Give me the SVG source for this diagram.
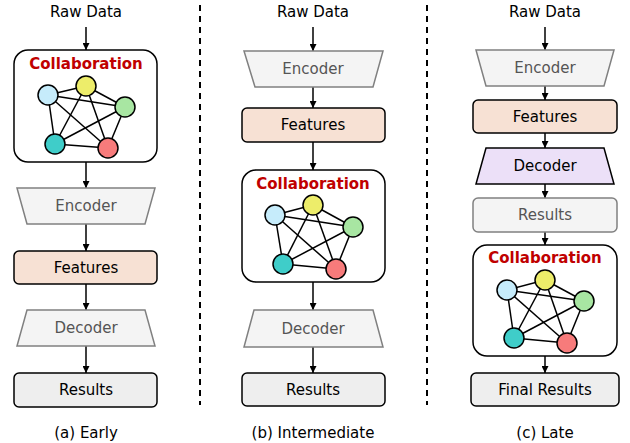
<svg xmlns="http://www.w3.org/2000/svg" width="630" height="443" viewBox="0 0 630 443">
<defs>
<marker id="ah" viewBox="0 0 10 10" refX="10" refY="5" markerWidth="7" markerHeight="7" markerUnits="userSpaceOnUse" orient="auto"><path d="M0,0 L10,5 L0,10 z" fill="#000"/></marker>
<style>
text{font-family:"DejaVu Sans","Verdana",sans-serif;font-size:15px;text-anchor:middle;dominant-baseline:central}
.lbl{fill:#000}
.gray{fill:#555}
.title{fill:#c00000;font-weight:bold}
.enc{fill:#f4f4f4;stroke:#808080;stroke-width:1.5}
.feat{fill:#f7e1d4;stroke:#000;stroke-width:1.5}
.res{fill:#eeeeee;stroke:#000;stroke-width:1.5}
.resg{fill:#f4f4f4;stroke:#808080;stroke-width:1.5}
.dec2{fill:#ece0f8;stroke:#000;stroke-width:1.5}
.box{fill:#fff;stroke:#000;stroke-width:1.5}
.edge{stroke:#000;stroke-width:1.5}
.n{stroke:#000;stroke-width:1.5}
.arr{stroke:#000;stroke-width:1.5;fill:none;marker-end:url(#ah)}
.sep{stroke:#000;stroke-width:2;stroke-dasharray:6,5}
</style>
</defs>
<g id="separators">
<line class="sep" x1="200" y1="5" x2="200" y2="405"/>
<line class="sep" x1="427" y1="5" x2="427" y2="405"/>
</g>
<g id="connectors">
<line class="arr" x1="86" y1="27" x2="86" y2="50"/>
<line class="arr" x1="86" y1="162" x2="86" y2="188"/>
<line class="arr" x1="86" y1="224" x2="86" y2="251"/>
<line class="arr" x1="86" y1="284" x2="86" y2="310"/>
<line class="arr" x1="86" y1="346" x2="86" y2="373"/>
<line class="arr" x1="313" y1="27" x2="313" y2="51"/>
<line class="arr" x1="313" y1="87" x2="313" y2="108"/>
<line class="arr" x1="313" y1="142" x2="313" y2="170"/>
<line class="arr" x1="313" y1="282" x2="313" y2="310"/>
<line class="arr" x1="313" y1="347" x2="313" y2="373"/>
<line class="arr" x1="545" y1="27" x2="545" y2="50"/>
<line class="arr" x1="545" y1="86" x2="545" y2="100"/>
<line class="arr" x1="545" y1="133" x2="545" y2="148"/>
<line class="arr" x1="545" y1="184" x2="545" y2="198"/>
<line class="arr" x1="545" y1="232" x2="545" y2="245"/>
<line class="arr" x1="545" y1="356" x2="545" y2="373"/>
</g>
<!-- Column a -->
<g id="a-raw"><text class="lbl" x="86" y="12">Raw Data</text></g>
<g id="a-collab">
<rect class="box" x="14" y="50" width="143" height="112" rx="14"/>
<text class="title" x="86" y="64">Collaboration</text>
<g>
<line class="edge" x1="48" y1="95" x2="86" y2="86"/><line class="edge" x1="48" y1="95" x2="125" y2="107"/><line class="edge" x1="48" y1="95" x2="55" y2="144"/><line class="edge" x1="48" y1="95" x2="108" y2="148"/>
<line class="edge" x1="86" y1="86" x2="125" y2="107"/><line class="edge" x1="86" y1="86" x2="55" y2="144"/><line class="edge" x1="86" y1="86" x2="108" y2="148"/>
<line class="edge" x1="125" y1="107" x2="55" y2="144"/><line class="edge" x1="125" y1="107" x2="108" y2="148"/>
<line class="edge" x1="55" y1="144" x2="108" y2="148"/>
</g>
<circle class="n" cx="48" cy="95" r="10" fill="#c6ecfb"/>
<circle class="n" cx="86" cy="86" r="10" fill="#eded6a"/>
<circle class="n" cx="125" cy="107" r="10" fill="#a8e6a2"/>
<circle class="n" cx="55" cy="144" r="10" fill="#3fcdc9"/>
<circle class="n" cx="108" cy="148" r="10" fill="#f77b7b"/>
</g>
<g id="a-encoder"><polygon class="enc" points="17,188 155,188 145,224 27,224"/><text class="gray" x="86" y="206">Encoder</text></g>
<g id="a-features"><rect class="feat" x="14" y="251" width="143" height="33" rx="5"/><text class="lbl" x="86" y="267.5">Features</text></g>
<g id="a-decoder"><polygon class="enc" points="27,310 145,310 155,346 17,346"/><text class="gray" x="86" y="328">Decoder</text></g>
<g id="a-results"><rect class="res" x="14" y="373" width="143" height="34" rx="5"/><text class="lbl" x="86" y="390">Results</text></g>
<g id="a-caption"><text class="lbl" x="86" y="433">(a) Early</text></g>
<!-- Column b -->
<g id="b-raw"><text class="lbl" x="313" y="12">Raw Data</text></g>
<g id="b-encoder"><polygon class="enc" points="244,51 383,51 373,87 255,87"/><text class="gray" x="313" y="69">Encoder</text></g>
<g id="b-features"><rect class="feat" x="242" y="108" width="143" height="34" rx="5"/><text class="lbl" x="313" y="125">Features</text></g>
<g id="b-collab">
<rect class="box" x="242" y="170" width="143" height="112" rx="14"/>
<text class="title" x="313" y="184">Collaboration</text>
<g>
<line class="edge" x1="275" y1="215" x2="313" y2="205"/><line class="edge" x1="275" y1="215" x2="353" y2="227"/><line class="edge" x1="275" y1="215" x2="283" y2="264"/><line class="edge" x1="275" y1="215" x2="336" y2="269"/>
<line class="edge" x1="313" y1="205" x2="353" y2="227"/><line class="edge" x1="313" y1="205" x2="283" y2="264"/><line class="edge" x1="313" y1="205" x2="336" y2="269"/>
<line class="edge" x1="353" y1="227" x2="283" y2="264"/><line class="edge" x1="353" y1="227" x2="336" y2="269"/>
<line class="edge" x1="283" y1="264" x2="336" y2="269"/>
</g>
<circle class="n" cx="275" cy="215" r="10" fill="#c6ecfb"/>
<circle class="n" cx="313" cy="205" r="10" fill="#eded6a"/>
<circle class="n" cx="353" cy="227" r="10" fill="#a8e6a2"/>
<circle class="n" cx="283" cy="264" r="10" fill="#3fcdc9"/>
<circle class="n" cx="336" cy="269" r="10" fill="#f77b7b"/>
</g>
<g id="b-decoder"><polygon class="enc" points="254,310 373,310 383,347 244,347"/><text class="gray" x="313" y="328.5">Decoder</text></g>
<g id="b-results"><rect class="res" x="242" y="373" width="143" height="33" rx="5"/><text class="lbl" x="313" y="389.5">Results</text></g>
<g id="b-caption"><text class="lbl" x="313" y="433">(b) Intermediate</text></g>
<!-- Column c -->
<g id="c-raw"><text class="lbl" x="545" y="12">Raw Data</text></g>
<g id="c-encoder"><polygon class="enc" points="476,50 614,50 604,86 486,86"/><text class="gray" x="545" y="68">Encoder</text></g>
<g id="c-features"><rect class="feat" x="473" y="100" width="144" height="33" rx="5"/><text class="lbl" x="545" y="116.5">Features</text></g>
<g id="c-decoder"><polygon class="dec2" points="486,148 604,148 614,184 476,184"/><text class="lbl" x="545" y="166">Decoder</text></g>
<g id="c-results"><rect class="resg" x="473" y="198" width="144" height="34" rx="5"/><text class="gray" x="545" y="215">Results</text></g>
<g id="c-collab">
<rect class="box" x="473" y="245" width="144" height="111" rx="14"/>
<text class="title" x="545" y="258">Collaboration</text>
<g>
<line class="edge" x1="507" y1="290" x2="545" y2="280"/><line class="edge" x1="507" y1="290" x2="584" y2="301"/><line class="edge" x1="507" y1="290" x2="514" y2="338"/><line class="edge" x1="507" y1="290" x2="567" y2="343"/>
<line class="edge" x1="545" y1="280" x2="584" y2="301"/><line class="edge" x1="545" y1="280" x2="514" y2="338"/><line class="edge" x1="545" y1="280" x2="567" y2="343"/>
<line class="edge" x1="584" y1="301" x2="514" y2="338"/><line class="edge" x1="584" y1="301" x2="567" y2="343"/>
<line class="edge" x1="514" y1="338" x2="567" y2="343"/>
</g>
<circle class="n" cx="507" cy="290" r="10" fill="#c6ecfb"/>
<circle class="n" cx="545" cy="280" r="10" fill="#eded6a"/>
<circle class="n" cx="584" cy="301" r="10" fill="#a8e6a2"/>
<circle class="n" cx="514" cy="338" r="10" fill="#3fcdc9"/>
<circle class="n" cx="567" cy="343" r="10" fill="#f77b7b"/>
</g>
<g id="c-final"><rect class="res" x="471" y="373" width="148" height="33" rx="5"/><text class="lbl" x="545" y="389.5">Final Results</text></g>
<g id="c-caption"><text class="lbl" x="545" y="433">(c) Late</text></g>
</svg>
